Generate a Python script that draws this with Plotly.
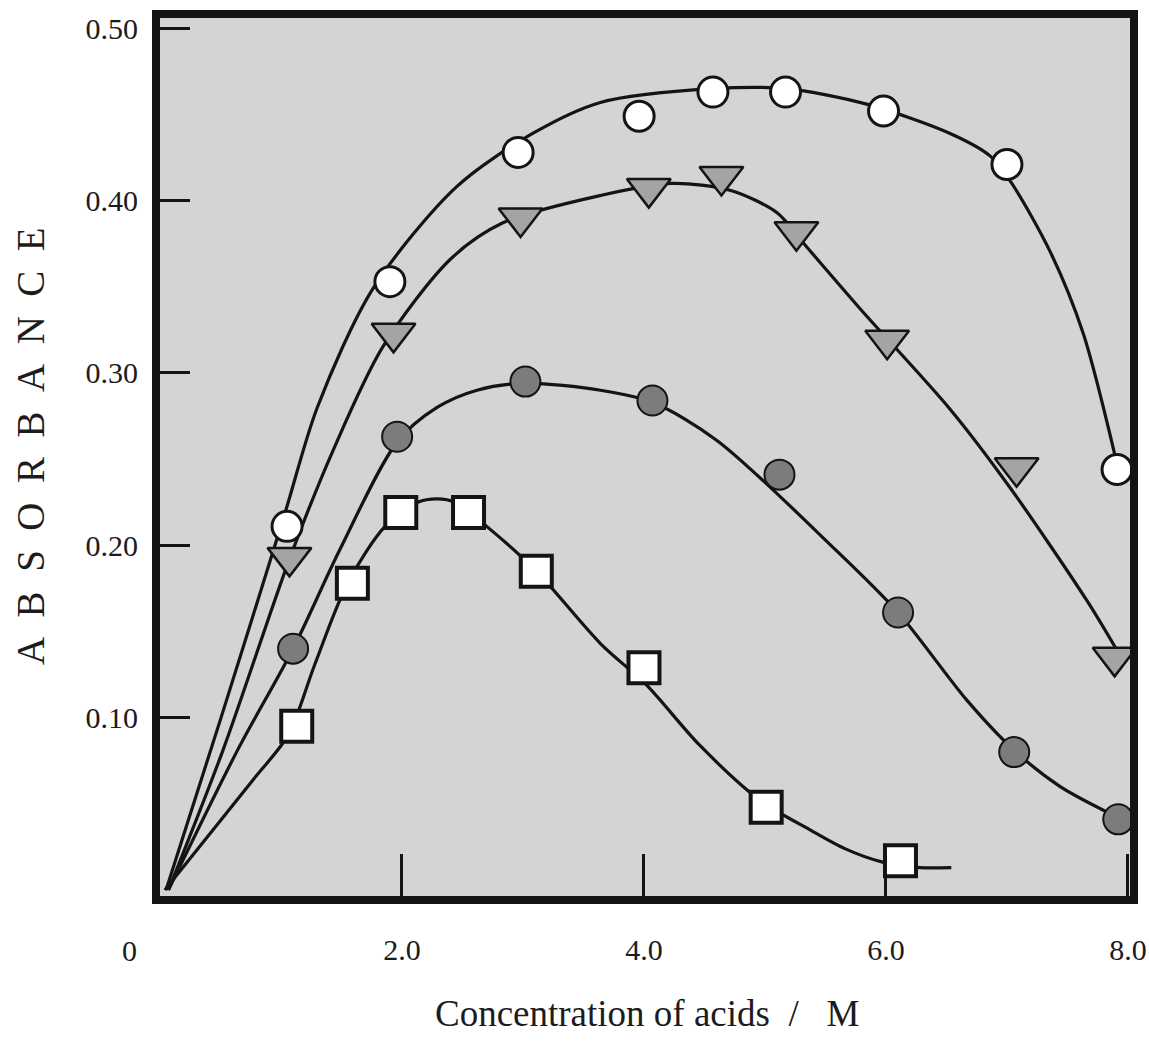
import plotly.graph_objects as go

# ---------------- data ----------------
# measured points
circle_x = [1.05, 1.90, 2.96, 3.96, 4.57, 5.17, 5.98, 7.00, 7.91]
circle_y = [0.211, 0.353, 0.428, 0.449, 0.463, 0.463, 0.452, 0.421, 0.244]

tri_x = [1.07, 1.93, 2.98, 4.04, 4.64, 5.26, 6.01, 7.08, 7.89]
tri_y = [0.193, 0.323, 0.390, 0.407, 0.414, 0.382, 0.319, 0.245, 0.135]

gray_x = [1.10, 1.96, 3.02, 4.07, 5.12, 6.10, 7.06, 7.92]
gray_y = [0.140, 0.263, 0.295, 0.284, 0.241, 0.161, 0.080, 0.041]

sq_x = [1.13, 1.59, 1.99, 2.55, 3.11, 4.00, 5.01, 6.12]
sq_y = [0.095, 0.178, 0.219, 0.219, 0.185, 0.129, 0.048, 0.017]

# hand-drawn fitted curves
circle_fit_x = [0.05, 0.50, 1.03, 1.30, 1.76, 2.45, 3.08, 3.64, 4.57, 5.17, 5.84, 6.53, 6.86, 7.04, 7.36, 7.63, 7.91]
circle_fit_y = [0.000, 0.099, 0.218, 0.280, 0.349, 0.408, 0.439, 0.457, 0.465, 0.465, 0.456, 0.439, 0.426, 0.410, 0.370, 0.323, 0.247]

tri_fit_x = [0.07, 0.52, 1.07, 1.43, 1.84, 2.40, 2.83, 3.64, 4.23, 4.71, 5.10, 5.31, 5.79, 6.53, 7.02, 7.66, 7.91]
tri_fit_y = [0.000, 0.081, 0.192, 0.255, 0.315, 0.366, 0.387, 0.403, 0.410, 0.406, 0.393, 0.376, 0.337, 0.279, 0.234, 0.168, 0.139]

gray_fit_x = [0.07, 0.64, 1.10, 1.49, 1.96, 2.29, 2.62, 3.02, 3.64, 4.07, 4.60, 5.56, 6.10, 6.67, 7.06, 7.44, 7.92]
gray_fit_y = [0.000, 0.081, 0.140, 0.198, 0.260, 0.280, 0.290, 0.294, 0.290, 0.283, 0.261, 0.199, 0.161, 0.110, 0.081, 0.060, 0.042]

sq_fit_x = [0.04, 0.77, 1.06, 1.28, 1.55, 1.86, 2.13, 2.29, 2.44, 2.70, 3.11, 3.64, 4.02, 4.46, 4.96, 5.37, 5.66, 5.98, 6.28, 6.54]
sq_fit_y = [0.000, 0.064, 0.090, 0.131, 0.178, 0.211, 0.225, 0.227, 0.225, 0.211, 0.185, 0.143, 0.119, 0.084, 0.052, 0.035, 0.024, 0.016, 0.013, 0.013]

x_tick_vals = [2, 4, 6, 8]
x_tick_text = ["2.0", "4.0", "6.0", "8.0"]
y_tick_vals = [0.1, 0.2, 0.3, 0.4, 0.5]
y_tick_text = ["0.10", "0.20", "0.30", "0.40", "0.50"]

x_title = "Concentration of acids\u00a0\u00a0/\u00a0\u00a0\u00a0M"
y_title = "A\u00a0\u00a0B\u00a0\u00a0S\u00a0\u00a0O\u00a0\u00a0R\u00a0\u00a0B\u00a0\u00a0A\u00a0\u00a0N\u00a0\u00a0C\u00a0\u00a0E"

# ---------------- figure ----------------
FONT = "Liberation Serif, Times New Roman, serif"
INK = "#141414"
TXT = "#1c1c1c"

fig = go.Figure()

for fx, fy in [(circle_fit_x, circle_fit_y), (tri_fit_x, tri_fit_y),
               (gray_fit_x, gray_fit_y), (sq_fit_x, sq_fit_y)]:
    fig.add_trace(go.Scatter(x=fx, y=fy, mode="lines",
                             line=dict(color=INK, width=3.2, shape="spline", smoothing=0.85),
                             hoverinfo="skip", showlegend=False))

fig.add_trace(go.Scatter(x=circle_x, y=circle_y, mode="markers", cliponaxis=False,
                         marker=dict(symbol="circle", size=30, color="white",
                                     line=dict(color=INK, width=3)), showlegend=False))
fig.add_trace(go.Scatter(x=tri_x, y=tri_y, mode="markers", cliponaxis=False,
                         marker=dict(symbol="triangle-down", size=38, color="#a4a4a4",
                                     line=dict(color=INK, width=2.5)), showlegend=False))
fig.add_trace(go.Scatter(x=gray_x, y=gray_y, mode="markers", cliponaxis=False,
                         marker=dict(symbol="circle", size=30, color="#7c7c7c",
                                     line=dict(color=INK, width=2)), showlegend=False))
fig.add_trace(go.Scatter(x=sq_x, y=sq_y, mode="markers", cliponaxis=False,
                         marker=dict(symbol="square", size=31, color="white",
                                     line=dict(color=INK, width=4)), showlegend=False))

fig.update_xaxes(range=[0, 8.017], automargin=False,
                 showline=True, mirror=True, linewidth=8, linecolor=INK,
                 ticks="inside", ticklen=42, tickwidth=3, tickcolor=INK,
                 tickvals=x_tick_vals, ticktext=x_tick_text, ticklabelstandoff=20,
                 tickfont=dict(family=FONT, size=30, color=TXT),
                 showgrid=False, zeroline=False)
fig.update_yaxes(range=[-0.0035, 0.506], automargin=False,
                 showline=True, mirror=True, linewidth=8, linecolor=INK,
                 ticks="inside", ticklen=30, tickwidth=3, tickcolor=INK,
                 tickvals=y_tick_vals, ticktext=y_tick_text, ticklabelstandoff=8,
                 tickfont=dict(family=FONT, size=30, color=TXT),
                 showgrid=False, zeroline=False)

fig.add_annotation(text="0", xref="paper", yref="paper", x=-0.031, y=-0.0626,
                   xanchor="center", yanchor="middle", showarrow=False,
                   font=dict(family=FONT, size=30, color=TXT))
fig.add_annotation(text=x_title, xref="paper", yref="paper", x=0.502, y=-0.1333,
                   xanchor="center", yanchor="middle", showarrow=False,
                   font=dict(family=FONT, size=37, color=TXT))
fig.add_annotation(text=y_title, xref="paper", yref="paper", x=-0.134, y=0.5125,
                   xanchor="center", yanchor="middle", textangle=-90, showarrow=False,
                   font=dict(family=FONT, size=39, color=TXT))

fig.update_layout(width=1149, height=1042,
                  margin=dict(l=160, r=19, t=18, b=146),
                  paper_bgcolor="white", plot_bgcolor="#d4d4d4",
                  showlegend=False)

fig.write_html("out.html")
